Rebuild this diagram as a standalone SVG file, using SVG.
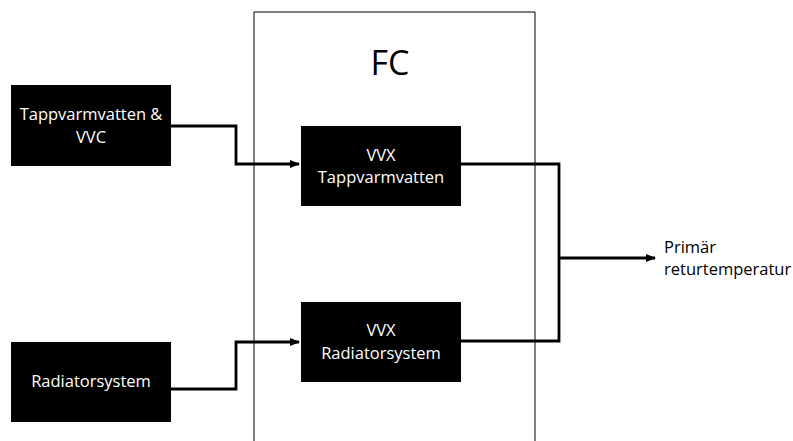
<svg xmlns="http://www.w3.org/2000/svg" width="793" height="441" viewBox="0 0 793 441">
<style>
.box{fill:#000}
.bt{fill:#fff;font-family:"Open Sans","Liberation Sans",sans-serif;font-size:16.5px;text-anchor:middle}
.lbl{fill:#000;font-family:"Open Sans","Liberation Sans",sans-serif;font-size:16.5px}
.wire{fill:none;stroke:#000;stroke-width:2.8}
</style>
<defs>
<marker id="ah" markerWidth="11" markerHeight="11" refX="9" refY="5" orient="auto" markerUnits="userSpaceOnUse">
<path d="M0,1 L10,5 L0,9 Z" fill="#000"/>
</marker>
</defs>
<rect width="793" height="441" fill="#fff"/>
<g id="fc">
<path d="M254,441 V12 H535 V441" fill="none" stroke="#000" stroke-width="1"/>
<text x="390" y="75" font-family="Open Sans, Liberation Sans, sans-serif" font-size="34" text-anchor="middle">FC</text>
</g>
<g id="connectors">
<path class="wire" d="M171,126 H236 V164 H299" marker-end="url(#ah)"/>
<path class="wire" d="M171,389 H236 V342 H299" marker-end="url(#ah)"/>
<path class="wire" d="M461,164 H559 V341 H461"/>
<path class="wire" d="M559,258 H655" marker-end="url(#ah)"/>
</g>
<g id="tappvarmvatten">
<rect class="box" x="11" y="85" width="160" height="81"/>
<text class="bt" x="91" y="120">Tappvarmvatten &amp;</text>
<text class="bt" x="91" y="143">VVC</text>
</g>
<g id="radiatorsystem">
<rect class="box" x="11" y="342" width="160" height="80"/>
<text class="bt" x="91" y="387">Radiatorsystem</text>
</g>
<g id="vvx-tapp">
<rect class="box" x="301" y="126" width="160" height="80"/>
<text class="bt" x="381" y="161">VVX</text>
<text class="bt" x="381" y="183">Tappvarmvatten</text>
</g>
<g id="vvx-rad">
<rect class="box" x="301" y="302" width="160" height="80"/>
<text class="bt" x="381" y="336">VVX</text>
<text class="bt" x="381" y="359">Radiatorsystem</text>
</g>
<g id="primar">
<text class="lbl" x="664" y="253">Primär</text>
<text class="lbl" x="664" y="275">returtemperatur</text>
</g>
</svg>
